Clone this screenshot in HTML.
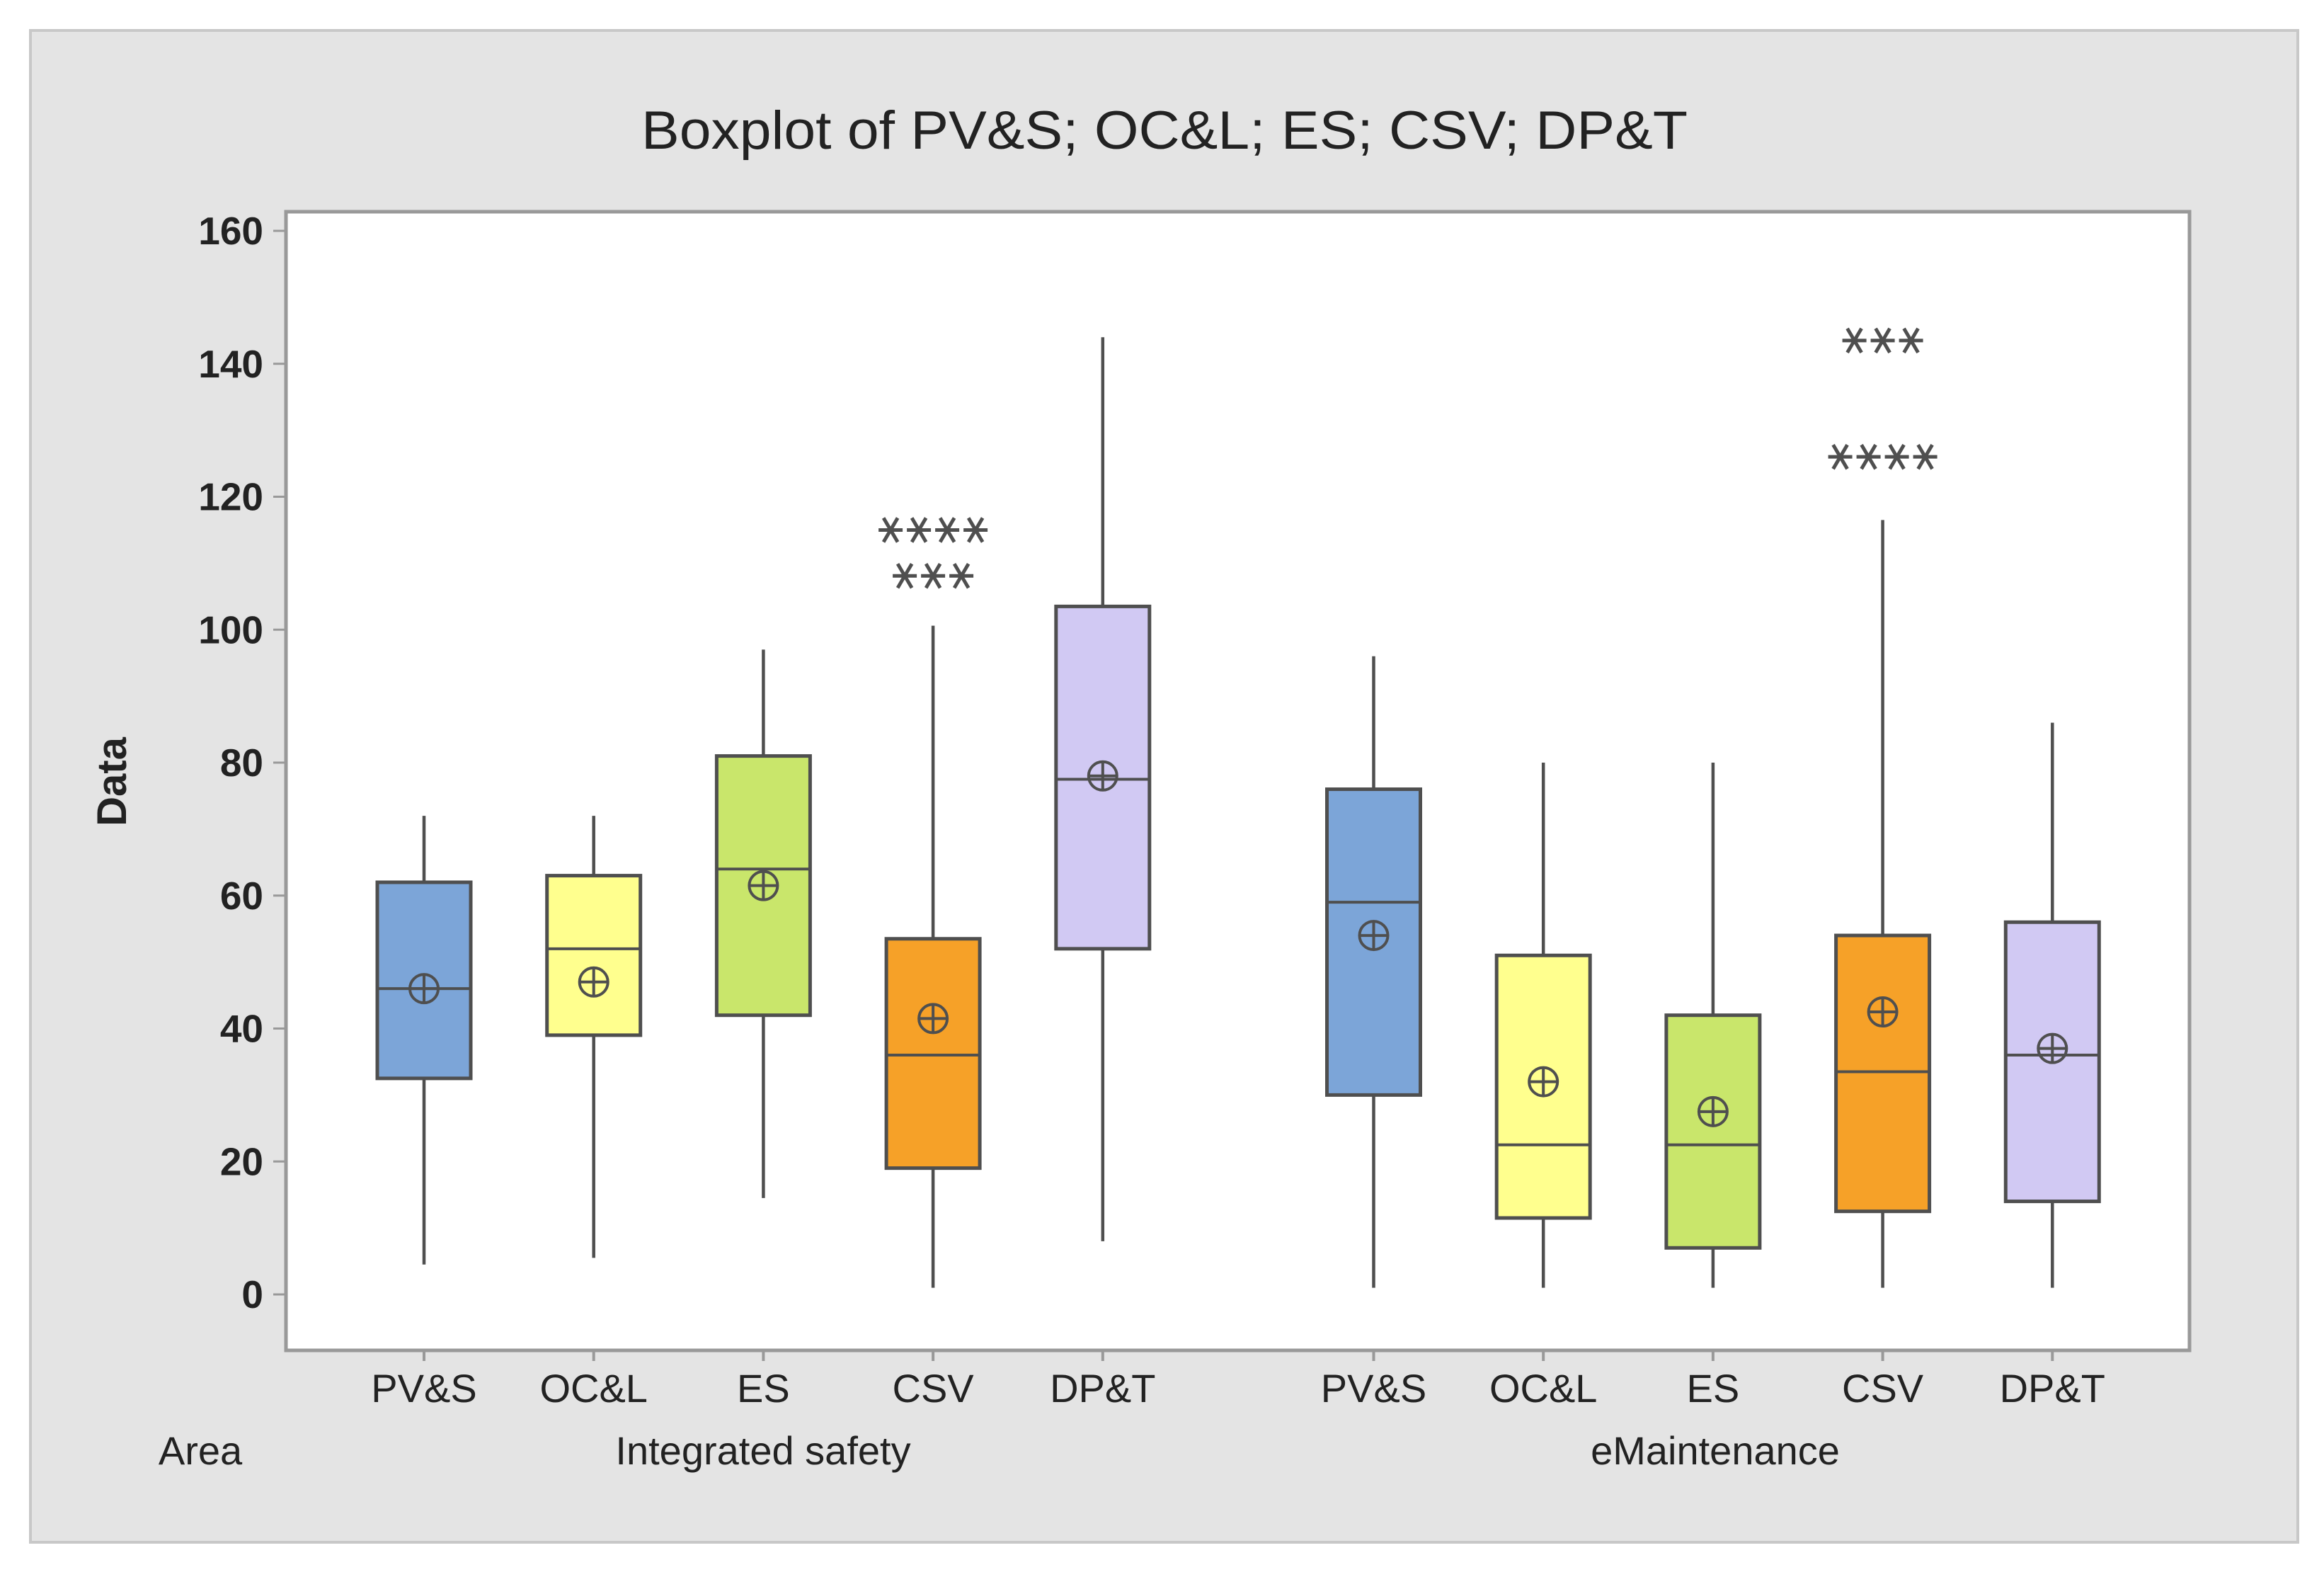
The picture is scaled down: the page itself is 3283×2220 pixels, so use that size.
<!DOCTYPE html>
<html><head><meta charset="utf-8"><style>
html,body{margin:0;padding:0;background:#fff;}
svg{display:block;}
text{font-family:"Liberation Sans",sans-serif;fill:#222;}
</style></head><body>
<svg id="chart" width="3283" height="2220" viewBox="0 0 3283 2220" xmlns="http://www.w3.org/2000/svg">
<rect x="0" y="0" width="3283" height="2220" fill="#fff"/>
<rect x="43" y="43" width="3203" height="2135" fill="#e4e4e4" stroke="#c8c8c8" stroke-width="4"/>
<text x="1645" y="210" font-size="76" text-anchor="middle" textLength="1478" lengthAdjust="spacingAndGlyphs">Boxplot of PV&amp;S; OC&amp;L; ES; CSV; DP&amp;T</text>
<rect x="404" y="299" width="2689" height="1608" fill="#fff" stroke="#999" stroke-width="5"/>
<text transform="translate(178,1104) rotate(-90)" font-size="58" font-weight="bold" text-anchor="middle">Data</text>
<text x="283" y="2068" font-size="56" text-anchor="middle">Area</text>
<text x="1078" y="2068" font-size="56" text-anchor="middle">Integrated safety</text>
<text x="2423" y="2068" font-size="56" text-anchor="middle">eMaintenance</text>
<g id="yaxis"></g>
<g id="marks"></g>
</svg>
<script>
const yTicks = [0,20,40,60,80,100,120,140,160];
const categories = ["PV&S","OC&L","ES","CSV","DP&T","PV&S","OC&L","ES","CSV","DP&T"];
const groups = ["Integrated safety","Integrated safety","Integrated safety","Integrated safety","Integrated safety","eMaintenance","eMaintenance","eMaintenance","eMaintenance","eMaintenance"];
const whiskerLow = [4.5,5.5,14.5,1,8,1,1,1,1,1];
const q1 = [32.5,39,42,19,52,30,11.5,7,12.5,14];
const median = [46,52,64,36,77.5,59,22.5,22.5,33.5,36];
const q3 = [62,63,81,53.5,103.5,76,51,42,54,56];
const whiskerHigh = [72,72,97,100.6,144,96,80,80,116.5,86];
const means = [46,47,61.5,41.5,78,54,32,27.5,42.5,37];
const outlierRows = [[],[],[],[[115,4],[108.1,3]],[],[],[],[],[[143.5,3],[126,4]],[]];
const colors = ["#7ca5d8","#ffff8e","#c9e66b","#f6a128","#d1c9f3","#7ca5d8","#ffff8e","#c9e66b","#f6a128","#d1c9f3"];

const NS="http://www.w3.org/2000/svg";
const y = v => 1828 - v*(1502/160);
const xc = i => 599 + i*239.7 + (i>=5?143:0);
function mk(tag, attrs, parent){const e=document.createElementNS(NS,tag);for(const k in attrs)e.setAttribute(k,attrs[k]);parent.appendChild(e);return e;}
const ya=document.getElementById('yaxis'), mg=document.getElementById('marks');
yTicks.forEach(t=>{
  const l=mk('line',{x1:386,x2:402,y1:y(t),y2:y(t),stroke:'#999','stroke-width':3},ya);
  
  
  const tx=mk('text',{x:372,y:y(t)+19,'font-size':55,'font-weight':'bold','text-anchor':'end'},ya);
  tx.textContent=t;
  
  
});
const st='#4f4f4f';
categories.forEach((c,i)=>{
  const x=xc(i), hw=66;
  const g=mk('g',{},mg);
  
  
  mk('line',{x1:x,x2:x,y1:y(whiskerHigh[i]),y2:y(q3[i]),stroke:st,'stroke-width':4.5},g);
  mk('line',{x1:x,x2:x,y1:y(q1[i]),y2:y(whiskerLow[i]),stroke:st,'stroke-width':4.5},g);
  mk('rect',{x:x-hw,y:y(q3[i]),width:2*hw,height:y(q1[i])-y(q3[i]),fill:colors[i],stroke:st,'stroke-width':5},g);
  mk('line',{x1:x-hw,x2:x+hw,y1:y(median[i]),y2:y(median[i]),stroke:st,'stroke-width':4},g);
  const my=y(means[i]);
  mk('circle',{cx:x,cy:my,r:20,fill:'none',stroke:st,'stroke-width':4},g);
  mk('line',{x1:x-20,x2:x+20,y1:my,y2:my,stroke:st,'stroke-width':4},g);
  mk('line',{x1:x,x2:x,y1:my-20,y2:my+20,stroke:st,'stroke-width':4},g);
  outlierRows[i].forEach(([v,n])=>{
    const oy=y(v);
    for(let k=0;k<n;k++){
      const ox=x+(k-(n-1)/2)*40;
      const s=mk('g',{stroke:st,'stroke-width':5},g);
      
      
      mk('line',{x1:ox-17,x2:ox+17,y1:oy,y2:oy},s);
      mk('line',{x1:ox-10,x2:ox+10,y1:oy-17,y2:oy+17},s);
      mk('line',{x1:ox+10,x2:ox-10,y1:oy-17,y2:oy+17},s);
    }
  });
  const tk=mk('line',{x1:x,x2:x,y1:1909,y2:1922,stroke:'#999','stroke-width':4},mg);
  
  
  const lb=mk('text',{x:x,y:1980,'font-size':56,'text-anchor':'middle'},mg);
  lb.textContent=c;
  
  
});
</script>
</body></html>
